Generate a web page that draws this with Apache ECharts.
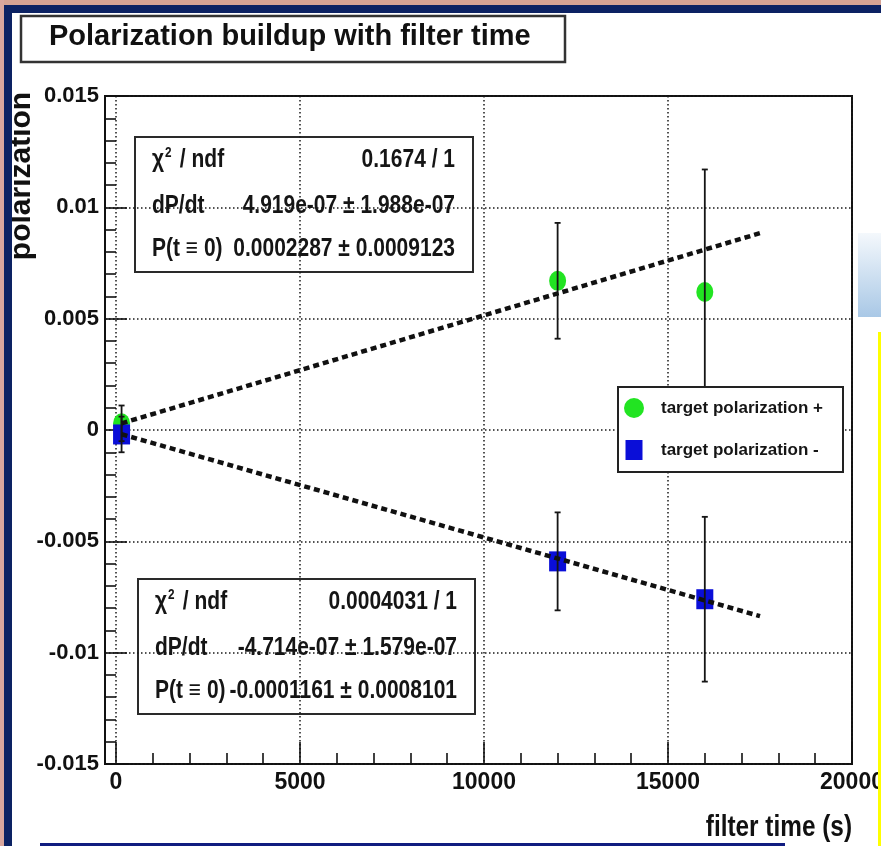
<!DOCTYPE html>
<html>
<head>
<meta charset="utf-8">
<script src="https://cdn.jsdelivr.net/npm/echarts@6/dist/echarts.min.js"></script>
<style>
  html, body { margin: 0; padding: 0; background: #fff; }
  #chart { width: 881px; height: 846px; }
</style>
</head>
<body>
<div id="chart"></div>
<script>
// measured points (filter time in s)
var times = [150, 12000, 16000];
var plusVals = [0.0003, 0.0067, 0.0062];
var plusErrs = [0.0008, 0.0026, 0.0055];
var minusVals = [-0.0002, -0.0059, -0.0076];
var minusErrs = [0.0008, 0.0022, 0.0037];

// fitted lines, end points
var plusFit = [[150, 0.0003], [17500, 0.00884]];
var minusFit = [[150, -0.00019], [17500, -0.00836]];

var xTicks = [0, 5000, 10000, 15000, 20000];
var yTicks = [-0.015, -0.01, -0.005, 0, 0.005, 0.01, 0.015];

var seriesNames = ['target polarization +', 'target polarization -'];
var statsPlus = [['χ2 / ndf', '0.1674 / 1'], ['dP/dt', '4.919e-07 ± 1.988e-07'], ['P(t ≡ 0)', '0.0002287 ± 0.0009123']];
var statsMinus = [['χ2 / ndf', '0.0004031 / 1'], ['dP/dt', '-4.714e-07 ± 1.579e-07'], ['P(t ≡ 0)', '-0.0001161 ± 0.0008101']];

var FONT = "'Liberation Sans', Arial, sans-serif";
var NAVY = '#0c2263';
var INK = '#151515';
var NARROW = 0.84;   // squeeze to get the condensed Helvetica look
var rowOffsets = [23, 69.5, 112];

function points(vals) {
    var out = [];
    for (var i = 0; i < times.length; i++) out.push([times[i], vals[i]]);
    return out;
}
function errPoints(vals, errs) {
    var out = [];
    for (var i = 0; i < times.length; i++) out.push([times[i], vals[i], errs[i]]);
    return out;
}

function renderErr(params, api) {
    var x = api.value(0), y = api.value(1), e = api.value(2);
    var hi = api.coord([x, y + e]);
    var lo = api.coord([x, y - e]);
    var st = {stroke: INK, lineWidth: 1.8};
    return {
        type: 'group',
        children: [
            {type: 'line', shape: {x1: hi[0], y1: hi[1], x2: lo[0], y2: lo[1]}, style: st},
            {type: 'line', shape: {x1: hi[0] - 3, y1: hi[1], x2: hi[0] + 3, y2: hi[1]}, style: st},
            {type: 'line', shape: {x1: lo[0] - 3, y1: lo[1], x2: lo[0] + 3, y2: lo[1]}, style: st}
        ]
    };
}

function statsBox(rows, x, y, w, h, lx, rx) {
    var children = [{
        type: 'rect', shape: {x: x, y: y, width: w, height: h},
        style: {fill: '#fff', stroke: '#2a2a2a', lineWidth: 2}
    }];
    for (var i = 0; i < rows.length; i++) {
        var cy = y + rowOffsets[i];
        var left = rows[i][0];
        var leftText = left.indexOf('χ2') === 0 ? '{t|χ}{s|2}{t|' + left.slice(2) + '}' : '{t|' + left + '}';
        children.push({
            type: 'text', x: lx, y: cy, scaleX: NARROW,
            style: {
                text: leftText, align: 'left', verticalAlign: 'middle',
                rich: {
                    t: {fontFamily: FONT, fontWeight: 'bold', fontSize: 25, fill: INK},
                    s: {fontFamily: FONT, fontWeight: 'bold', fontSize: 14, fill: INK, padding: [0, 3, 14, 1]}
                }
            }
        });
        children.push({
            type: 'text', x: rx, y: cy, scaleX: NARROW,
            style: {
                text: rows[i][1], align: 'right', verticalAlign: 'middle',
                font: 'bold 25px ' + FONT, fill: INK
            }
        });
    }
    return {type: 'group', z: 5, children: children};
}

var chart = echarts.init(document.getElementById('chart'), null, {renderer: 'canvas'});

var gridLine = {show: true, lineStyle: {color: '#1a1a1a', width: 1.5, type: [1.5, 2.5]}};

var option = {
    backgroundColor: '#fff',
    animation: false,
    title: {
        text: 'Polarization buildup with filter time',
        left: 49, top: 22, padding: 0,
        textStyle: {fontFamily: FONT, fontWeight: 'bold', fontSize: 29, color: '#111'}
    },
    legend: {
        data: [
            {name: seriesNames[0], icon: 'circle'},
            {name: seriesNames[1], icon: 'path://M0,0H17V20H0Z'}
        ],
        orient: 'vertical',
        left: 624, top: 398, padding: 0,
        itemWidth: 44, itemHeight: 20, itemGap: 22,
        textStyle: {fontFamily: FONT, fontWeight: 'bold', fontSize: 17, color: INK},
        z: 8
    },
    grid: [
        {left: 105, right: 29, top: 96, bottom: 82, outerBoundsMode: 'none',
            show: true, borderColor: '#111', borderWidth: 2, backgroundColor: '#fff'},
        {left: 116, right: 29, top: 96, bottom: 82, outerBoundsMode: 'none'}
    ],
    xAxis: [
        {gridIndex: 0, type: 'value', min: -300, max: 20000, show: false},
        {
            gridIndex: 1, type: 'value', min: xTicks[0], max: xTicks[xTicks.length - 1], interval: 5000,
            axisLine: {show: false, onZero: false},
            axisTick: {inside: true, length: 22, lineStyle: {color: '#111', width: 1.6}},
            minorTick: {show: true, splitNumber: 5, length: 11, lineStyle: {color: '#111', width: 1.6}},
            axisLabel: {margin: 7, fontFamily: FONT, fontWeight: 'bold', fontSize: 23, color: '#111',
                customValues: xTicks, formatter: function (v) { return String(v); }},
            splitLine: gridLine
        }
    ],
    yAxis: [
        {
            gridIndex: 0, type: 'value', min: yTicks[0], max: yTicks[yTicks.length - 1], interval: 0.005,
            axisLine: {show: true, onZero: false, lineStyle: {color: '#111', width: 2}},
            axisTick: {inside: true, length: 22, lineStyle: {color: '#111', width: 1.6}},
            minorTick: {show: true, splitNumber: 5, length: 11, lineStyle: {color: '#111', width: 1.6}},
            axisLabel: {margin: 6, fontFamily: FONT, fontWeight: 'bold', fontSize: 22, color: '#111',
                customValues: yTicks, formatter: function (v) { return String(v); }},
            splitLine: gridLine
        },
        {gridIndex: 1, type: 'value', min: yTicks[0], max: yTicks[yTicks.length - 1], show: false}
    ],
    graphic: [
        // page decoration around the plot
        {type: 'rect', shape: {x: 0, y: 0, width: 881, height: 5}, style: {fill: '#d6a394'}, z: 10},
        {type: 'rect', shape: {x: 0, y: 5, width: 881, height: 8}, style: {fill: NAVY}, z: 10},
        {type: 'rect', shape: {x: 0, y: 0, width: 4, height: 846}, style: {fill: '#d9a79e'}, z: 10},
        {type: 'rect', shape: {x: 4, y: 5, width: 8, height: 841}, style: {fill: NAVY}, z: 10},
        {type: 'rect', shape: {x: 40, y: 843, width: 745, height: 3}, style: {fill: '#101c80'}, z: 10},
        {
            type: 'rect', shape: {x: 858, y: 233, width: 23, height: 84}, z: 10,
            style: {fill: new echarts.graphic.LinearGradient(0, 0, 0, 1, [
                {offset: 0, color: '#f4f8fc'}, {offset: 1, color: '#a9c8e6'}])}
        },
        {type: 'rect', shape: {x: 878, y: 332, width: 3, height: 514}, style: {fill: '#ffff00'}, z: 10},
        // title frame
        {type: 'rect', shape: {x: 21, y: 16, width: 544, height: 46}, style: {fill: 'none', stroke: '#333', lineWidth: 2.5}, z: 5},
        // legend frame
        {type: 'rect', shape: {x: 618, y: 387, width: 225, height: 85}, style: {fill: '#fff', stroke: '#222', lineWidth: 2}, z: 5},
        // axis titles
        {
            type: 'text', x: 22, y: 176, rotation: Math.PI / 2, z: 5,
            style: {text: 'polarization', align: 'center', verticalAlign: 'middle',
                font: 'bold 30px ' + FONT, fill: '#111'}
        },
        {
            type: 'text', x: 852, y: 828, z: 5, scaleX: NARROW,
            style: {text: 'filter time (s)', align: 'right', verticalAlign: 'middle',
                font: 'bold 29px ' + FONT, fill: '#111'}
        },
        statsBox(statsPlus, 135, 137, 338, 135, 152, 455),
        statsBox(statsMinus, 138, 579, 337, 135, 155, 457)
    ],
    series: [
        {
            name: seriesNames[0], type: 'scatter', xAxisIndex: 0, yAxisIndex: 0,
            data: points(plusVals), symbol: 'circle', symbolSize: [17, 20],
            itemStyle: {color: '#22e422', opacity: 1}, z: 2
        },
        {
            name: seriesNames[1], type: 'scatter', xAxisIndex: 0, yAxisIndex: 0,
            data: points(minusVals), symbol: 'rect', symbolSize: [17, 20],
            itemStyle: {color: '#0a0ed8', opacity: 1}, z: 2
        },
        {
            name: 'plus errors', type: 'custom', xAxisIndex: 0, yAxisIndex: 0,
            data: errPoints(plusVals, plusErrs), renderItem: renderErr, z: 3
        },
        {
            name: 'minus errors', type: 'custom', xAxisIndex: 0, yAxisIndex: 0,
            data: errPoints(minusVals, minusErrs), renderItem: renderErr, z: 3
        },
        {
            name: 'fit +', type: 'line', xAxisIndex: 0, yAxisIndex: 0, data: plusFit,
            showSymbol: false, symbol: 'none', z: 4,
            lineStyle: {color: '#111', width: 4.5, type: [6, 4]}
        },
        {
            name: 'fit -', type: 'line', xAxisIndex: 0, yAxisIndex: 0, data: minusFit,
            showSymbol: false, symbol: 'none', z: 4,
            lineStyle: {color: '#111', width: 4.5, type: [6, 4]}
        }
    ]
};

chart.setOption(option);
</script>
</body>
</html>
